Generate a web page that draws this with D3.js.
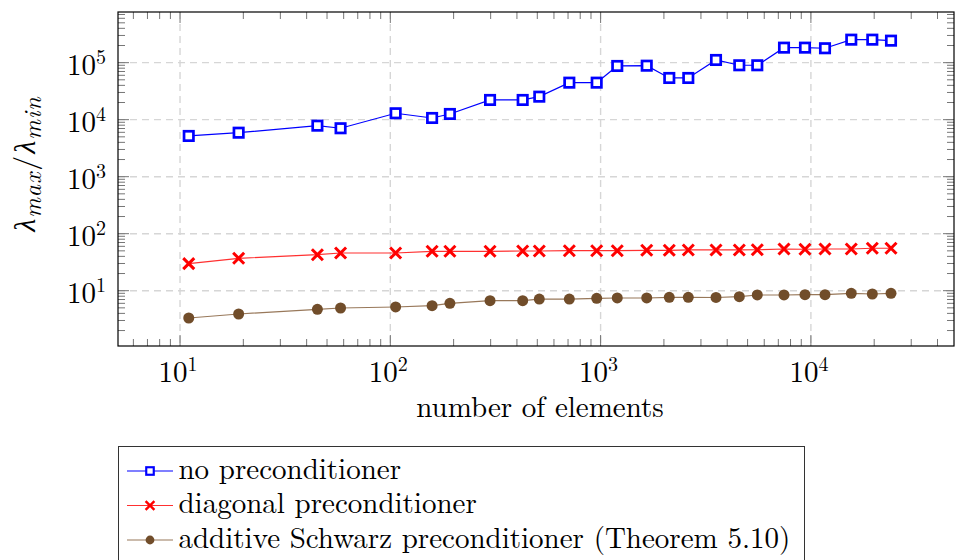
<!DOCTYPE html>
<html>
<head>
<meta charset="utf-8">
<script src="https://cdnjs.cloudflare.com/ajax/libs/d3/7.8.5/d3.min.js"></script>
<style>
  body { margin: 0; background: #fff; }
  svg { display: block; }
</style>
</head>
<body>
<svg id="chart" width="955" height="560"></svg>
<script>
// number of elements (x) and lambda_max / lambda_min for each preconditioner
const elements = [11, 19, 45, 58, 106, 158, 192, 298, 426, 511, 710, 958, 1200, 1657, 2121, 2612,
                  3538, 4566, 5560, 7450, 9373, 11670, 15560, 19590, 24040];
const noPrecond = [5180, 5910, 7850, 7070, 12950, 10710, 12590, 22170, 22170, 25330, 44590, 44590,
                   87500, 88500, 53900, 53900, 111500, 90000, 90000, 183400, 183400, 179000,
                   253200, 253200, 243200];
const diagPrecond = [29.8, 37.0, 42.8, 45.8, 45.8, 49.1, 49.1, 49.1, 49.7, 49.7, 50.3, 50.3, 50.3,
                     51.1, 51.1, 51.8, 51.8, 51.8, 52.3, 53.9, 53.3, 53.9, 53.9, 55.5, 55.5];
const schwarzPrecond = [3.32, 3.90, 4.72, 4.97, 5.18, 5.45, 6.01, 6.68, 6.68, 7.14, 7.14, 7.36, 7.45,
                        7.45, 7.66, 7.66, 7.6, 7.85, 8.41, 8.41, 8.5, 8.5, 9.0, 8.75, 9.0];
const seriesNames = ['no preconditioner', 'diagonal preconditioner',
                     'additive Schwarz preconditioner (Theorem 5.10)'];
const xTickExps = [1, 2, 3, 4];
const yTickExps = [1, 2, 3, 4, 5];

const series = [
  { name: seriesNames[0], values: noPrecond, line: '#0000ff', mark: 'square', color: '#0000ff' },
  { name: seriesNames[1], values: diagPrecond, line: '#ff3030', mark: 'cross', color: '#ff0000' },
  { name: seriesNames[2], values: schwarzPrecond, line: '#98785a', mark: 'circle', color: '#714d2a' }
];

const pLeft = 118, pRight = 954, pTop = 12, pBottom = 346;
const serif = "'Latin Modern Roman', 'CMU Serif', 'Liberation Serif', 'DejaVu Serif', " +
              "'Noto Serif', 'Tinos', 'Times New Roman', 'Nimbus Roman', 'FreeSerif', serif";

const svg = d3.select('#chart').attr('font-family', serif);

const x = d3.scaleLog().domain([5.07, 47920]).range([pLeft, pRight]);
const y = d3.scaleLog().domain([1.071, 774000]).range([pBottom, pTop]);

// minor ticks 2..9 inside the domain
function minorTicks(scale, lo, hi) {
  const out = [];
  const d = scale.domain();
  for (let e = lo; e <= hi; e++) {
    for (let m = 2; m <= 9; m++) {
      const v = m * Math.pow(10, e);
      if (v > d[0] && v < d[1]) out.push(v);
    }
  }
  return out;
}
const xMinor = minorTicks(x, 0, 4);
const yMinor = minorTicks(y, 0, 5);
const xMajor = xTickExps.map(e => Math.pow(10, e));
const yMajor = yTickExps.map(e => Math.pow(10, e));

// grid
const grid = svg.append('g')
  .attr('stroke', '#d6d6d6')
  .attr('stroke-width', 1.4)
  .attr('stroke-dasharray', '7,5');
grid.selectAll('.gx').data(xMajor).enter().append('line')
  .attr('x1', d => x(d)).attr('x2', d => x(d))
  .attr('y1', pTop).attr('y2', pBottom);
grid.selectAll('.gy').data(yMajor).enter().append('line')
  .attr('y1', d => y(d)).attr('y2', d => y(d))
  .attr('x1', pLeft).attr('x2', pRight);

// ticks (inside, on all four sides)
const ticks = svg.append('g').attr('stroke', '#666').attr('stroke-width', 0.9);
function xTicks(data, len) {
  ticks.selectAll(null).data(data).enter().append('line')
    .attr('x1', d => x(d)).attr('x2', d => x(d))
    .attr('y1', pBottom).attr('y2', pBottom - len);
  ticks.selectAll(null).data(data).enter().append('line')
    .attr('x1', d => x(d)).attr('x2', d => x(d))
    .attr('y1', pTop).attr('y2', pTop + len);
}
function yTicks(data, len) {
  ticks.selectAll(null).data(data).enter().append('line')
    .attr('y1', d => y(d)).attr('y2', d => y(d))
    .attr('x1', pLeft).attr('x2', pLeft + len);
  ticks.selectAll(null).data(data).enter().append('line')
    .attr('y1', d => y(d)).attr('y2', d => y(d))
    .attr('x1', pRight).attr('x2', pRight - len);
}
xTicks(xMinor, 7);
xTicks(xMajor, 11);
yTicks(yMinor, 7);
yTicks(yMajor, 11);

// frame
svg.append('rect')
  .attr('x', pLeft).attr('y', pTop)
  .attr('width', pRight - pLeft).attr('height', pBottom - pTop)
  .attr('fill', 'none').attr('stroke', '#000').attr('stroke-width', 1.2);

// tick labels
const xl = svg.append('g').selectAll('text').data(xTickExps).enter().append('text')
  .attr('x', d => x(Math.pow(10, d)) - 2)
  .attr('y', 382)
  .attr('text-anchor', 'middle')
  .attr('font-size', 29);
xl.append('tspan').text('10');
xl.append('tspan').attr('dy', -11).attr('font-size', 20).text(d => d);

const yl = svg.append('g').selectAll('text').data(yTickExps).enter().append('text')
  .attr('x', 106)
  .attr('y', d => y(Math.pow(10, d)) + 12)
  .attr('text-anchor', 'end')
  .attr('font-size', 29);
yl.append('tspan').text('10');
yl.append('tspan').attr('dy', -11).attr('font-size', 20).text(d => d);

// axis titles
svg.append('text')
  .attr('x', (pLeft + pRight) / 2 + 4)
  .attr('y', 417)
  .attr('text-anchor', 'middle')
  .attr('font-size', 29)
  .text('number of elements');

const yt = svg.append('text')
  .attr('transform', `translate(35, 164) rotate(-90)`)
  .attr('text-anchor', 'middle')
  .attr('font-size', 30);
yt.append('tspan').attr('font-style', 'italic').text('λ');
yt.append('tspan').attr('font-style', 'italic').attr('font-size', 24)
  .attr('letter-spacing', 1).attr('dx', 1).attr('dy', 6).text('max');
yt.append('tspan').attr('dx', 1).attr('dy', -6).text('/');
yt.append('tspan').attr('font-style', 'italic').attr('dx', 2).text('λ');
yt.append('tspan').attr('font-style', 'italic').attr('font-size', 24)
  .attr('letter-spacing', 1).attr('dx', 1).attr('dy', 6).text('min');

// markers
function drawMark(g, s, cx, cy, k) {
  if (s.mark === 'square') {
    const h = 4.7 * k;
    g.append('rect').attr('x', cx - h).attr('y', cy - h)
      .attr('width', 2 * h).attr('height', 2 * h)
      .attr('fill', '#fff').attr('stroke', s.color).attr('stroke-width', 2.7 * k);
  } else if (s.mark === 'cross') {
    const h = 5.5 * k;
    g.append('path')
      .attr('d', `M${cx - h},${cy - h}L${cx + h},${cy + h}M${cx - h},${cy + h}L${cx + h},${cy - h}`)
      .attr('stroke', s.color).attr('stroke-width', 3 * k).attr('fill', 'none');
  } else {
    g.append('circle').attr('cx', cx).attr('cy', cy).attr('r', 5.5 * k)
      .attr('fill', s.color);
  }
}

const line = d3.line()
  .x((d, i) => x(elements[i]))
  .y(d => y(d));

series.forEach(s => {
  const g = svg.append('g');
  g.append('path')
    .attr('d', line(s.values))
    .attr('fill', 'none')
    .attr('stroke', s.line)
    .attr('stroke-width', 1.2);
  s.values.forEach((v, i) => drawMark(g, s, x(elements[i]), y(v), 1));
});

// legend
const legend = svg.append('g');
legend.append('rect')
  .attr('x', 118.5).attr('y', 446.5)
  .attr('width', 686).attr('height', 130)
  .attr('fill', '#fff').attr('stroke', '#333').attr('stroke-width', 1);

series.forEach((s, i) => {
  const ry = 471 + i * 34.5;
  const g = legend.append('g');
  g.append('line')
    .attr('x1', 127).attr('x2', 173)
    .attr('y1', ry).attr('y2', ry)
    .attr('stroke', s.line).attr('stroke-width', 1.2);
  drawMark(g, s, 150, ry, 0.8);
  g.append('text')
    .attr('x', 178.5).attr('y', ry + 7.5)
    .attr('font-size', 29)
    .text(s.name);
});
</script>
</body>
</html>
